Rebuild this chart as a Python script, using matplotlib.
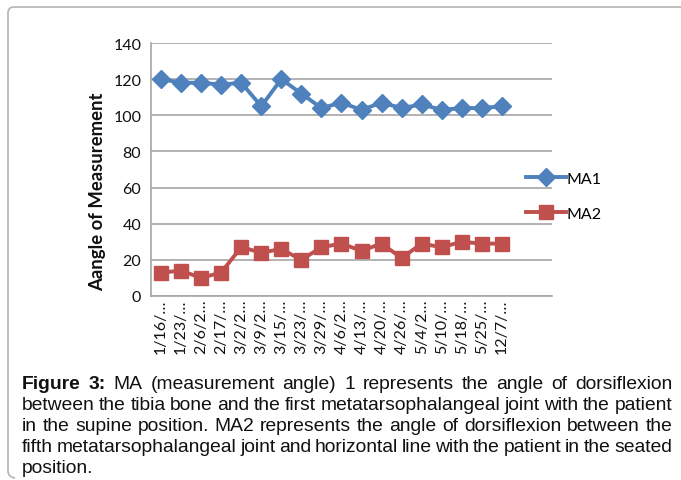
import matplotlib

matplotlib.use("Agg")

import matplotlib.pyplot as plt
from matplotlib.path import Path
from matplotlib.patches import PathPatch

W, H = 681, 481

DATES = ["1/16/…", "1/23/…", "2/6/2…", "2/17/…", "3/2/2…", "3/9/2…",
         "3/15/…", "3/23/…", "3/29/…", "4/6/2…", "4/13/…", "4/20/…",
         "4/26/…", "5/4/2…", "5/10/…", "5/18/…", "5/25/…", "12/7/…"]
MA1 = [120, 118, 118, 117, 118, 105, 120, 112, 104, 107, 103, 107,
       104, 106, 103, 104, 104, 105]
MA2 = [13, 14, 10, 13, 27, 24, 26, 20, 27, 29, 25, 29,
       21, 29, 27, 30, 29, 29]
Y_TICKS = [0, 20, 40, 60, 80, 100, 120, 140]

CAPTION_LINES = [
    "Figure 3: MA (measurement angle) 1 represents the angle of dorsiflexion",
    "between the tibia bone and the first metatarsophalangeal joint with the patient",
    "in the supine position. MA2 represents the angle of dorsiflexion between the",
    "fifth metatarsophalangeal joint and horizontal line with the patient in the seated",
    "position.",
]

BLUE = "#4F81BD"
RED = "#C0504D"
GRID = "#A6A6A6"
TEXT = "#111111"
CHART_FONT = ["Lato", "DejaVu Sans"]
CAPTION_FONT = ["Liberation Sans Narrow", "Liberation Sans", "DejaVu Sans"]


def fx(px):
    return px / W


def fy(py):
    return 1 - py / H


def draw_frame(fig):
    verts = [(681, 8), (14, 8), (8, 8), (8, 14), (8, 472), (8, 478), (15, 479)]
    codes = [Path.MOVETO, Path.LINETO, Path.CURVE3, Path.CURVE3,
             Path.LINETO, Path.CURVE3, Path.CURVE3]
    path = Path([(fx(x), fy(y)) for x, y in verts], codes)
    fig.add_artist(PathPatch(path, transform=fig.transFigure, facecolor="none",
                             edgecolor="#B4B4B4", linewidth=1.2))


def caption_items(fig, size):
    renderer = fig.canvas.get_renderer()
    rows = []
    for li, line in enumerate(CAPTION_LINES):
        items = []
        for wi, word in enumerate(line.split(" ")):
            bold = li == 0 and wi < 2
            t = fig.text(0, 0, word, fontsize=size, family=CAPTION_FONT,
                         fontweight="bold" if bold else "normal", color=TEXT,
                         ha="left", va="baseline")
            items.append(t)
        widths = [t.get_window_extent(renderer).width for t in items]
        rows.append((items, widths))
    return rows


def draw_caption(fig, x0, x1, baselines, max_size, min_gap=3.2):
    # justified paragraph: shrink the size until every line fits, then spread words
    size = max_size
    while True:
        rows = caption_items(fig, size)
        tight = min((x1 - x0 - sum(w)) / (len(w) - 1)
                    for _, w in rows[:-1])
        if tight >= min_gap or size < 9:
            break
        for items, _ in rows:
            for t in items:
                t.remove()
        size -= 0.1

    for li, ((items, widths), base) in enumerate(zip(rows, baselines)):
        if li == len(rows) - 1:
            gap = size * 0.3
        else:
            gap = (x1 - x0 - sum(widths)) / (len(items) - 1)
        x = x0
        for t, w in zip(items, widths):
            t.set_position((fx(x), fy(base)))
            x += w + gap


def main():
    fig = plt.figure(figsize=(W / 100, H / 100), dpi=100)
    fig.patch.set_facecolor("white")
    draw_frame(fig)

    ax = fig.add_axes([fx(151), fy(297), fx(552) - fx(151), fy(44) - fy(297)])
    x = list(range(len(DATES)))
    ax.plot(x, MA1, color=BLUE, linewidth=2.8, marker="D", markersize=9,
            label="MA1", zorder=3)
    ax.plot(x, MA2, color=RED, linewidth=2.8, marker="s", markersize=9.5,
            label="MA2", zorder=3)

    ax.set_xlim(-0.5, 19.5)
    ax.set_ylim(0, 140)
    ax.set_yticks(Y_TICKS)
    ax.set_xticks(x)
    ax.set_xticklabels(DATES, rotation=90, fontsize=11.5, family=CHART_FONT,
                       color=TEXT)
    for lab in ax.get_yticklabels():
        lab.set_fontsize(11.5)
        lab.set_family(CHART_FONT)
        lab.set_color(TEXT)
    ax.tick_params(axis="x", length=0, pad=2)
    ax.tick_params(axis="y", length=0, pad=7)
    ax.grid(axis="y", color=GRID, linewidth=1.2)
    ax.set_axisbelow(True)
    for side in ["top", "right"]:
        ax.spines[side].set_visible(False)
    for side in ["left", "bottom"]:
        ax.spines[side].set_color(GRID)
        ax.spines[side].set_linewidth(1.2)

    ax.set_ylabel("Aangle of Measurement", fontsize=13.3, fontweight="bold",
                  family=CHART_FONT, color=TEXT)
    ax.yaxis.set_label_coords((106 - 151) / 401, 0.415)

    fig.legend(loc="center left", bbox_to_anchor=(fx(526), fy(197)),
               frameon=False, borderpad=0, borderaxespad=0,
               handlelength=2.5, handletextpad=0.05, labelspacing=1.3,
               prop={"family": CHART_FONT, "size": 11.5})

    draw_caption(fig, 22, 672, [389, 410, 431, 452, 473], 14.0)

    fig.savefig("out.png", dpi=100, facecolor="white")
    plt.close(fig)


if __name__ == "__main__":
    main()
